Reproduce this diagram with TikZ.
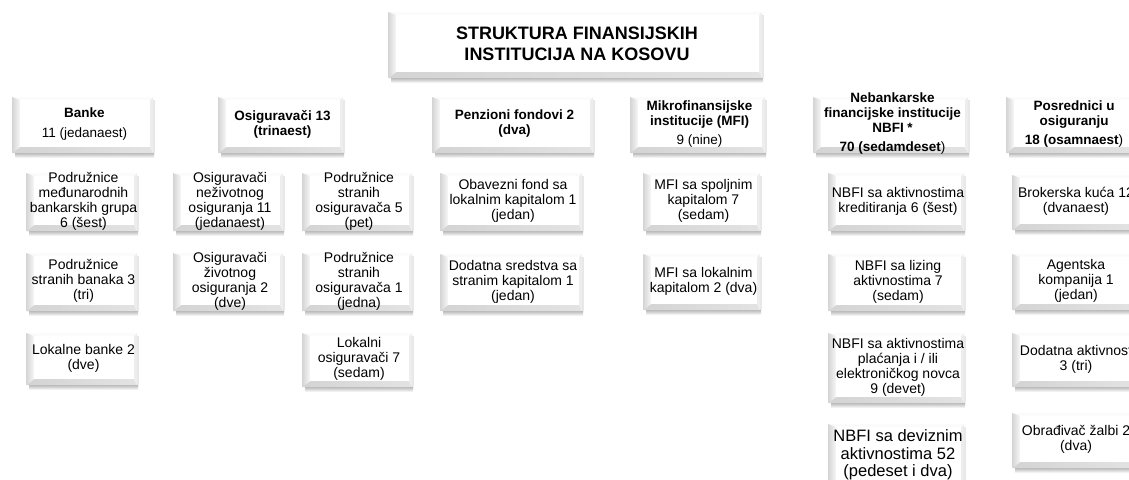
\documentclass[tikz,border=0pt]{standalone}
\usepackage{fontspec}
\setmainfont{Liberation Sans}
\tikzset{
  bevtxt/.style={align=center, inner sep=0pt, font=\fontsize{14}{15}\selectfont},
  bigtxt/.style={align=center, inner sep=0pt, font=\fontsize{16.5}{17.5}\selectfont},
  headtxt/.style={align=center, inner sep=0pt, font=\fontsize{13.5}{15}\selectfont},
  titletxt/.style={align=center, inner sep=0pt, font=\fontsize{18}{20.5}\bfseries\selectfont},
  bevshadow/.style={top color=gray!55, bottom color=white},
  bevleft/.style={left color=gray!34, right color=gray!6},
  bevbottom/.style={left color=gray!34, right color=gray!22},
  bevright/.style={fill=gray!14},
  bevtop/.style={fill=gray!3},
  bevface/.style={fill=white},
}
% [style]{name}{x1}{y1}{x2}{y2}{text}
\newcommand\bevbox[7][bevtxt]{%
  \shade[bevshadow] ({#3+3},#6) rectangle ({#5+1},{#6+5});
  \fill[gray!18] (#5,{#4+3}) rectangle ({#5+1.5},#6);
  \shade[bevbottom] (#3,#6) -- (#5,#6) -- ({#5-3},{#6-6}) -- ({#3+8},{#6-6}) -- cycle;
  \fill[bevright] (#5,#4) -- (#5,#6) -- ({#5-3},{#6-6}) -- ({#5-3},{#4+3}) -- cycle;
  \fill[bevtop] (#3,#4) -- (#5,#4) -- ({#5-3},{#4+3}) -- ({#3+8},{#4+3}) -- cycle;
  \shade[bevleft] (#3,#4) -- (#3,#6) -- ({#3+8},{#6-6}) -- ({#3+8},{#4+3}) -- cycle;
  \fill[bevface] ({#3+8},{#4+3}) rectangle ({#5-3},{#6-6});
  \node[#1, minimum width={(#5-#3)*1pt}, minimum height={(#6-#4)*1pt}] (#2) at ({(#3+#5)/2+2},{(#4+#6)/2-1}) {#7};
}
\begin{document}
\begin{tikzpicture}[x=1pt,y=-1pt]
\useasboundingbox (0,0) rectangle (1129,479);
\clip (0,0) rectangle (1129,479);
\fill[white] (0,0) rectangle (1129,479);

% title
\bevbox[titletxt]{title}{388}{12}{762}{78}{STRUKTURA FINANSIJSKIH\\INSTITUCIJA NA KOSOVU}

% headers
\bevbox[headtxt]{banke}{12}{97}{153}{153}{\textbf{Banke}\\[5pt]11 (jedanaest)}
\bevbox[headtxt]{osig}{218}{97}{343}{153}{\textbf{Osiguravači 13}\\\textbf{(trinaest)}}
\bevbox[headtxt]{penz}{432}{97}{593}{153}{\textbf{Penzioni fondovi 2}\\\textbf{(dva)}}
\bevbox[headtxt]{mfi}{630}{97}{765}{153}{\textbf{Mikrofinansijske}\\\textbf{institucije (MFI)}\\[4pt]9 (nine)}
\bevbox[headtxt]{nbfi}{813}{97}{968}{153}{\textbf{Nebankarske}\\\textbf{financijske institucije}\\\textbf{NBFI *}\\[4pt]\textbf{70 (sedamdeset})}
\bevbox[headtxt]{posr}{1006}{97}{1138}{153}{\textbf{Posrednici u}\\\textbf{osiguranju}\\[4pt]\textbf{18 (osamnaest})}

% Banke column
\bevbox{b1}{26}{173}{137}{231}{Podružnice\\međunarodnih\\bankarskih grupa\\6 (šest)}
\bevbox{b2}{26}{253}{137}{311}{Podružnice\\stranih banaka 3\\(tri)}
\bevbox{b3}{26}{333}{137}{385}{Lokalne banke 2\\(dve)}

% Osiguravaci columns
\bevbox{o1}{173}{173}{283}{231}{Osiguravači\\neživotnog\\osiguranja 11\\(jedanaest)}
\bevbox{o2}{173}{253}{283}{311}{Osiguravači\\životnog\\osiguranja 2\\(dve)}
\bevbox{o3}{302}{173}{412}{231}{Podružnice\\stranih\\osiguravača 5\\(pet)}
\bevbox{o4}{302}{253}{412}{311}{Podružnice\\stranih\\osiguravača 1\\(jedna)}
\bevbox{o5}{302}{333}{412}{387}{Lokalni\\osiguravači 7\\(sedam)}

% Penzioni
\bevbox{p1}{440}{173}{582}{231}{Obavezni fond sa\\lokalnim kapitalom 1\\(jedan)}
\bevbox{p2}{440}{254}{582}{311}{Dodatna sredstva sa\\stranim kapitalom 1\\(jedan)}

% MFI
\bevbox{m1}{643}{173}{760}{231}{MFI sa spoljnim\\kapitalom 7\\(sedam)}
\bevbox{m2}{643}{254}{760}{310}{MFI sa lokalnim\\kapitalom 2 (dva)}

% NBFI
\bevbox{n1}{828}{173}{964}{231}{NBFI sa aktivnostima\\kreditiranja 6 (šest)}
\bevbox{n2}{828}{254}{964}{311}{NBFI sa lizing\\aktivnostima 7\\(sedam)}
\bevbox{n3}{828}{333}{964}{403}{NBFI sa aktivnostima\\plaćanja i / ili\\elektroničkog novca\\9 (devet)}
\bevbox[bigtxt]{n4}{828}{424}{964}{488}{NBFI sa deviznim\\aktivnostima 52\\(pedeset i dva)}

% Posrednici
\bevbox{r1}{1012}{175}{1136}{230}{Brokerska kuća 12\\(dvanaest)}
\bevbox{r2}{1012}{254}{1136}{310}{Agentska\\kompanija 1\\(jedan)}
\bevbox{r3}{1012}{333}{1136}{387}{Dodatna aktivnost\\3 (tri)}
\bevbox{r4}{1012}{413}{1136}{468}{Obrađivač žalbi 2\\(dva)}
\end{tikzpicture}
\end{document}
